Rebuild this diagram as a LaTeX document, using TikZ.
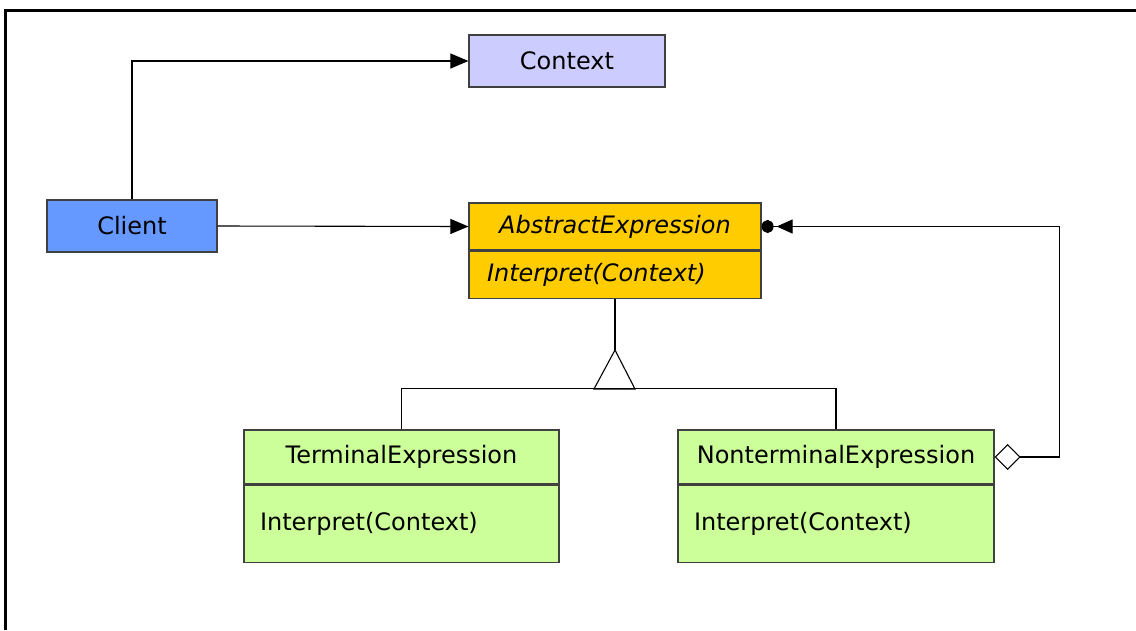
\documentclass[tikz,border=0pt]{standalone}
\usepackage{fontspec}
\setmainfont{DejaVu Sans}
\usetikzlibrary{positioning,arrows.meta}
\definecolor{ctxfill}{HTML}{CCCCFF}
\definecolor{clientfill}{HTML}{6699FF}
\definecolor{absfill}{HTML}{FFCC00}
\definecolor{exprfill}{HTML}{CCFF99}
\begin{document}
\begin{tikzpicture}
    [x=1pt, y=-1pt,
     box/.style={draw=black!75, line width=1.2pt, inner sep=0pt,
       minimum height=52pt, font=\fontsize{24}{28}\selectfont},
     opsbox/.style={box, align=left, text width=#1},
     conn/.style={line width=1.1pt, -{Triangle[length=18pt,width=15pt]}},
     line/.style={line width=1.1pt}]
    \useasboundingbox (0,0) rectangle (1136,630);
    \draw[line width=3pt] (5.5,630) -- (5.5,10.5) -- (1136,10.5);
    % classes
    \node[box, fill=ctxfill, minimum width=196pt] (context) at (567,61) {Context};
    \node[box, fill=clientfill, minimum width=170pt] (client) at (132,226) {Client};
    \node[box, fill=absfill, minimum width=292pt, minimum height=47pt,
      font=\fontsize{24}{28}\selectfont\itshape] (abs) at (615,226.5) {AbstractExpression};
    \node[opsbox=256pt, fill=absfill, minimum width=292pt, minimum height=47pt,
      font=\fontsize{24}{28}\selectfont\itshape, below=0pt of abs] (absop) {Interpret(Context)};
    \node[box, fill=exprfill, minimum width=315pt, minimum height=54pt] (term) at (401.5,457) {TerminalExpression};
    \node[opsbox=283pt, fill=exprfill, minimum width=315pt, minimum height=77pt,
      below=0pt of term] (termop) {Interpret(Context)};
    \node[box, fill=exprfill, minimum width=316pt, minimum height=54pt] (nonterm) at (836,457) {NonterminalExpression};
    \node[opsbox=284pt, fill=exprfill, minimum width=316pt, minimum height=77pt,
      below=0pt of nonterm] (nontermop) {Interpret(Context)};
    % associations
    \draw[conn] (client.north) |- (context.west);
    \draw[conn] (client.east) -- (abs.west);
    % inheritance
    \coordinate (apex) at (615,350);
    \draw[line] (absop.south) -- (apex);
    \draw[line] (apex) -- ++(-21,39) -- ++(41,0) -- cycle;
    \draw[line] (term.north) -- ++(0,-41) -| (nonterm.north);
    % aggregation
    \draw[line width=1.1pt, {Diamond[open,length=26pt,width=26pt]}-{Triangle[length=16pt,width=14pt,sep=3pt]Circle[length=12pt,width=13pt]}]
      (nonterm.east) -- ++(65,0) |- (abs.east);
\end{tikzpicture}
\end{document}
